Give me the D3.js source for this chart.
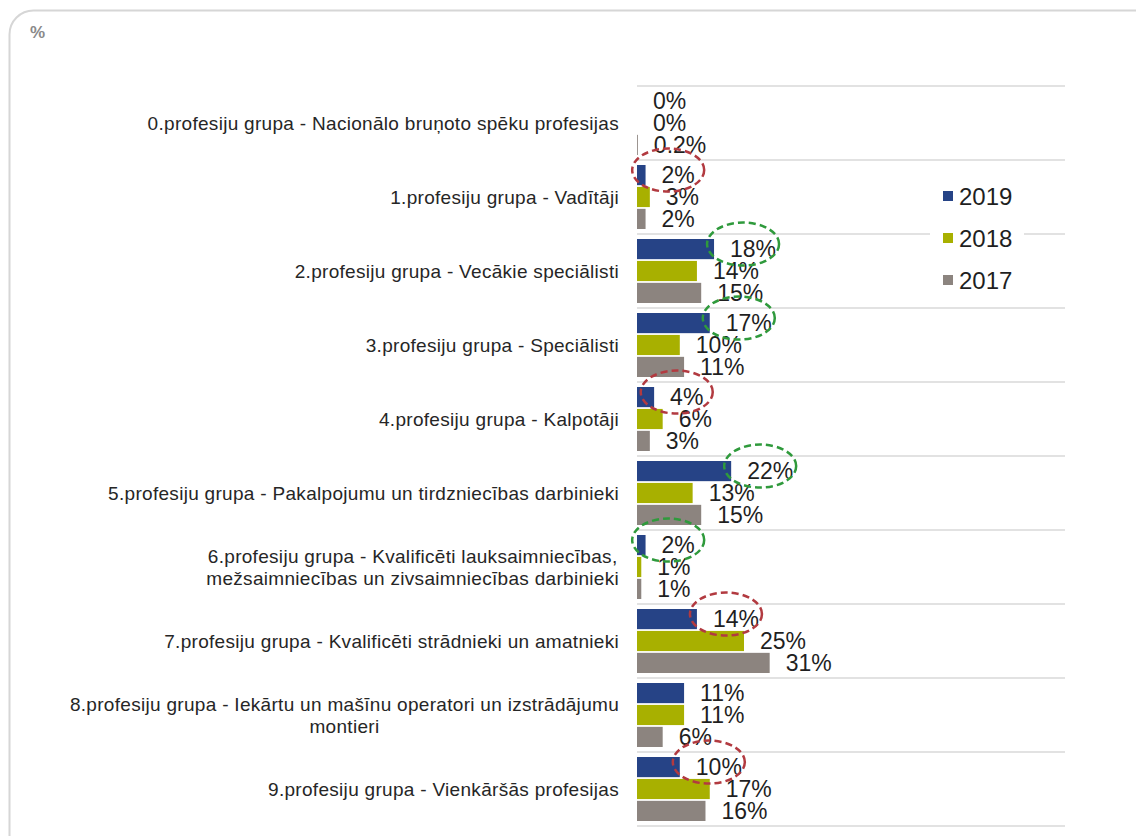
<!DOCTYPE html>
<html lang="lv">
<head>
<meta charset="utf-8">
<script src="https://d3js.org/d3.v7.min.js"></script>
<style>
  body { margin: 0; background: #fff; }
  text { font-family: "Liberation Sans", Arial, sans-serif; }
</style>
</head>
<body>
<div id="chart"></div>
<script>
const categories = [
  "0.profesiju grupa - Nacionālo bruņoto spēku profesijas",
  "1.profesiju grupa - Vadītāji",
  "2.profesiju grupa - Vecākie speciālisti",
  "3.profesiju grupa - Speciālisti",
  "4.profesiju grupa - Kalpotāji",
  "5.profesiju grupa - Pakalpojumu un tirdzniecības darbinieki",
  "6.profesiju grupa - Kvalificēti lauksaimniecības,\nmežsaimniecības un zivsaimniecības darbinieki",
  "7.profesiju grupa - Kvalificēti strādnieki un amatnieki",
  "8.profesiju grupa - Iekārtu un mašīnu operatori un izstrādājumu\nmontieri",
  "9.profesiju grupa - Vienkāršās profesijas"
]
const years = ["2019", "2018", "2017"]
const v2019 = [0, 2, 18, 17, 4, 22, 2, 14, 11, 10]
const v2018 = [0, 3, 14, 10, 6, 13, 1, 25, 11, 17]
const v2017 = [0.2, 2, 15, 11, 3, 15, 1, 31, 6, 16]
// 2019 labels circled in the original
const circledRed = [1, 4, 7, 9]
const circledGreen = [2, 3, 5, 6]

const width = 1136
const height = 836
const colors = { "2019": "#264386", "2018": "#a8b000", "2017": "#8c847f" }

const series = { "2019": v2019, "2018": v2018, "2017": v2017 }
const rows = []
categories.forEach((c, i) => {
  years.forEach(yr => rows.push({ cat: i, year: yr, value: series[yr][i] }))
})

const fmt = v => (v === 0 ? "0" : v < 0.5 ? v.toFixed(1) : Math.round(v)) + "%"

const x = d3.scaleLinear().domain([0, 100]).range([637, 1065])
const y = d3.scaleBand().domain(d3.range(categories.length)).range([86, 826])
const yInner = d3.scaleBand().domain(years).range([5, y.bandwidth() - 5]).paddingInner(0.08)

const svg = d3.select("#chart").append("svg")
  .attr("width", width)
  .attr("height", height)

// frame
svg.append("rect")
  .attr("x", 9.5).attr("y", 10.5)
  .attr("width", 1150).attr("height", 850)
  .attr("rx", 24)
  .attr("fill", "#fff")
  .attr("stroke", "#d6d6d6")
  .attr("stroke-width", 2)

svg.append("text")
  .attr("x", 30).attr("y", 38)
  .attr("fill", "#8a8a8a")
  .attr("font-size", 17)
  .attr("font-weight", "bold")
  .text("%")

// gridlines between groups
const gridY = y.domain().map(d => y(d)).concat([y.range()[1]])
svg.append("g")
  .selectAll("line")
  .data(gridY)
  .join("line")
  .attr("x1", x(0)).attr("x2", x(100))
  .attr("y1", d => d).attr("y2", d => d)
  .attr("stroke", "#d9d9d9")
  .attr("stroke-width", 1.5)

// bars
svg.append("g")
  .selectAll("rect")
  .data(rows)
  .join("rect")
  .attr("x", x(0))
  .attr("y", d => y(d.cat) + yInner(d.year))
  .attr("width", d => x(d.value) - x(0))
  .attr("height", yInner.bandwidth())
  .attr("fill", d => colors[d.year])

// value labels
const labels = svg.append("g")
  .selectAll("text")
  .data(rows)
  .join("text")
  .attr("x", d => x(d.value) + 16)
  .attr("y", d => y(d.cat) + yInner(d.year) + yInner.bandwidth() / 2)
  .attr("dy", "0.36em")
  .attr("font-size", 23)
  .attr("fill", "#1f1f1f")
  .text(d => fmt(d.value))

// category labels (centre aligned block, right edge at 619)
const catG = svg.append("g")
categories.forEach((c, i) => {
  const lines = c.split("\n")
  const t = catG.append("text")
    .attr("font-size", 19)
    .attr("letter-spacing", 0.3)
    .attr("fill", "#262626")
    .attr("text-anchor", "middle")
  const lh = 21.5
  lines.forEach((ln, j) => {
    t.append("tspan")
      .attr("x", 0)
      .attr("y", y(i) + y.bandwidth() / 2 + (j - (lines.length - 1) / 2) * lh)
      .attr("dy", "0.36em")
      .text(ln)
  })
  let w = 0
  t.selectAll("tspan").each(function () { w = Math.max(w, this.getComputedTextLength()) })
  t.selectAll("tspan").attr("x", 619 - w / 2)
})

// dashed ellipses around selected 2019 labels
const circled = circledRed.map(c => ({ cat: c, color: "#b23a40" }))
  .concat(circledGreen.map(c => ({ cat: c, color: "#2f9a3c" })))
labels.filter(d => d.year === "2019").each(function (d) {
  const a = circled.find(e => e.cat === d.cat)
  if (!a) return
  const w = this.getComputedTextLength()
  svg.append("ellipse")
    .attr("cx", x(d.value) + 16 + w / 2 - 10)
    .attr("cy", y(d.cat) + yInner("2019") + yInner.bandwidth() / 2 - 5)
    .attr("rx", 36)
    .attr("ry", 21.5)
    .attr("fill", "none")
    .attr("stroke", a.color)
    .attr("stroke-width", 2.5)
    .attr("stroke-dasharray", "7,4")
})

// legend
const legend = svg.append("g")
legend.append("rect")
  .attr("x", 930).attr("y", 176)
  .attr("width", 94).attr("height", 124)
  .attr("fill", "#fff")
years.forEach((yr, i) => {
  const cy = 196 + i * 42
  legend.append("rect")
    .attr("x", 943).attr("y", cy - 5)
    .attr("width", 10).attr("height", 10)
    .attr("fill", colors[yr])
  legend.append("text")
    .attr("x", 959).attr("y", cy)
    .attr("dy", "0.36em")
    .attr("font-size", 24)
    .attr("fill", "#1f1f1f")
    .text(yr)
})
</script>
</body>
</html>
